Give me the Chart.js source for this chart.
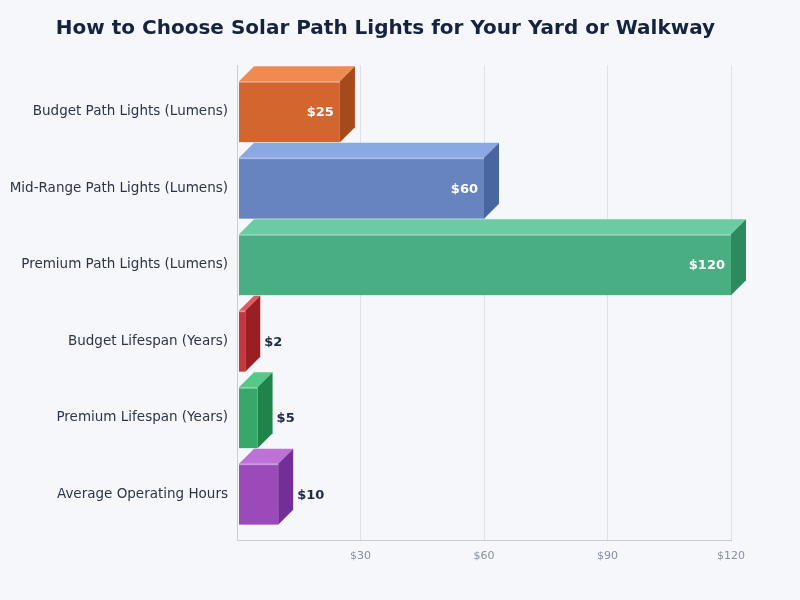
<!DOCTYPE html>
<html>
<head>
<meta charset="utf-8">
<script src="https://cdn.jsdelivr.net/npm/chart.js@4.4.1/dist/chart.umd.min.js"></script>
<style>
  html, body { margin: 0; padding: 0; background: #f5f7fb; }
  #wrap { width: 800px; height: 600px; }
</style>
</head>
<body>
<div id="wrap"><canvas id="myChart" width="800" height="600"></canvas></div>
<script>
  // data
  const categories = [
    "Budget Path Lights (Lumens)",
    "Mid-Range Path Lights (Lumens)",
    "Premium Path Lights (Lumens)",
    "Budget Lifespan (Years)",
    "Premium Lifespan (Years)",
    "Average Operating Hours"
  ];
  const values = [25, 60, 120, 2, 5, 10];
  const xTicks = [0, 30, 60, 90, 120];

  // face colours: front, top, side
  const frontColors = ["#d3652f", "#6784c1", "#4aae83", "#c7363d", "#37a86a", "#9a4bb9"];
  const topColors   = ["#ef8b50", "#8aa8e2", "#6acca0", "#e05a5e", "#55c987", "#bd73d6"];
  const sideColors  = ["#a54a1b", "#4a66a0", "#2c8a5e", "#9a1f25", "#1f8449", "#732f98"];

  const depth = 15;

  // draws each bar as a 3d box plus its value label
  const boxPlugin = {
    id: "box3d",
    afterLayout(chart) {
      // let the long category labels run past the padded edge without clipping
      chart.scales.y.left = 0;
    },
    afterDatasetsDraw(chart) {
      const ctx = chart.ctx;
      const meta = chart.getDatasetMeta(0);
      meta.data.forEach(function(bar, i) {
        const p = bar.getProps(["x", "y", "base", "height"], true);
        const left = p.base + 1.5, right = p.x;
        const top = p.y - p.height / 2, bottom = p.y + p.height / 2;
        ctx.save();
        // top face
        ctx.fillStyle = topColors[i];
        ctx.beginPath();
        ctx.moveTo(left, top);
        ctx.lineTo(left + depth, top - depth);
        ctx.lineTo(right + depth, top - depth);
        ctx.lineTo(right, top);
        ctx.closePath();
        ctx.fill();
        // side face
        ctx.fillStyle = sideColors[i];
        ctx.beginPath();
        ctx.moveTo(right, top);
        ctx.lineTo(right + depth, top - depth);
        ctx.lineTo(right + depth, bottom - depth);
        ctx.lineTo(right, bottom);
        ctx.closePath();
        ctx.fill();
        // front face
        ctx.fillStyle = frontColors[i];
        ctx.fillRect(left, top, right - left, bottom - top);
        // highlight on the front edge
        ctx.fillStyle = "rgba(255,255,255,0.45)";
        ctx.fillRect(left, top, right - left, 1.5);

        // value label
        ctx.font = "bold 13px 'DejaVu Sans', sans-serif";
        ctx.textBaseline = "middle";
        const txt = "$" + values[i];
        if (right - left > 60) {
          ctx.fillStyle = "#ffffff";
          ctx.textAlign = "right";
          ctx.fillText(txt, right - 6, p.y + 1);
        } else {
          ctx.fillStyle = "#1f2a44";
          ctx.textAlign = "left";
          ctx.fillText(txt, right + depth + 4, p.y + 1);
        }
        ctx.restore();
      });
    }
  };

  const config = {
    type: "bar",
    data: {
      datasets: [{
        label: "Value",
        data: values.map(function(v, i) { return { x: v, y: i }; }),
        backgroundColor: "rgba(0,0,0,0)",
        borderWidth: 0,
        barThickness: 61
      }]
    },
    options: {
      indexAxis: "y",
      responsive: false,
      animation: false,
      layout: { padding: { left: 40, right: 69, top: 0, bottom: 28 } },
      plugins: {
        legend: { display: false },
        tooltip: { enabled: false },
        title: {
          display: true,
          text: "How to Choose Solar Path Lights for Your Yard or Walkway",
          color: "#16233f",
          font: { family: "'DejaVu Sans', sans-serif", size: 20, weight: "bold" },
          padding: { top: 17, bottom: 24 }
        }
      },
      scales: {
        x: {
          type: "linear",
          min: 0,
          max: 120,
          afterBuildTicks: function(scale) {
            scale.ticks = xTicks.map(function(v) { return { value: v }; });
          },
          ticks: {
            color: "#8a909c",
            font: { family: "'DejaVu Sans', sans-serif", size: 11 },
            padding: 9,
            callback: function(v) { return v === 0 ? "" : "$" + v; }
          },
          grid: { color: "#dde1e8", lineWidth: 1, drawTicks: false },
          border: { color: "#c9cdd5", width: 1 }
        },
        y: {
          type: "linear",
          reverse: true,
          offset: false,
          min: -0.61,
          max: 5.61,
          afterFit: function(scale) { scale.width = 197; },
          ticks: {
            stepSize: 1,
            includeBounds: false,
            autoSkip: false,
            color: "#2d3446",
            font: { family: "'DejaVu Sans', sans-serif", size: 13.5 },
            padding: 9,
            callback: function(v) { return categories[v] || ""; }
          },
          grid: { display: false, drawTicks: false },
          border: { color: "#c9cdd5", width: 1 }
        }
      }
    },
    plugins: [boxPlugin]
  };

  var myChart = new Chart(document.getElementById("myChart"), config);
</script>
</body>
</html>
